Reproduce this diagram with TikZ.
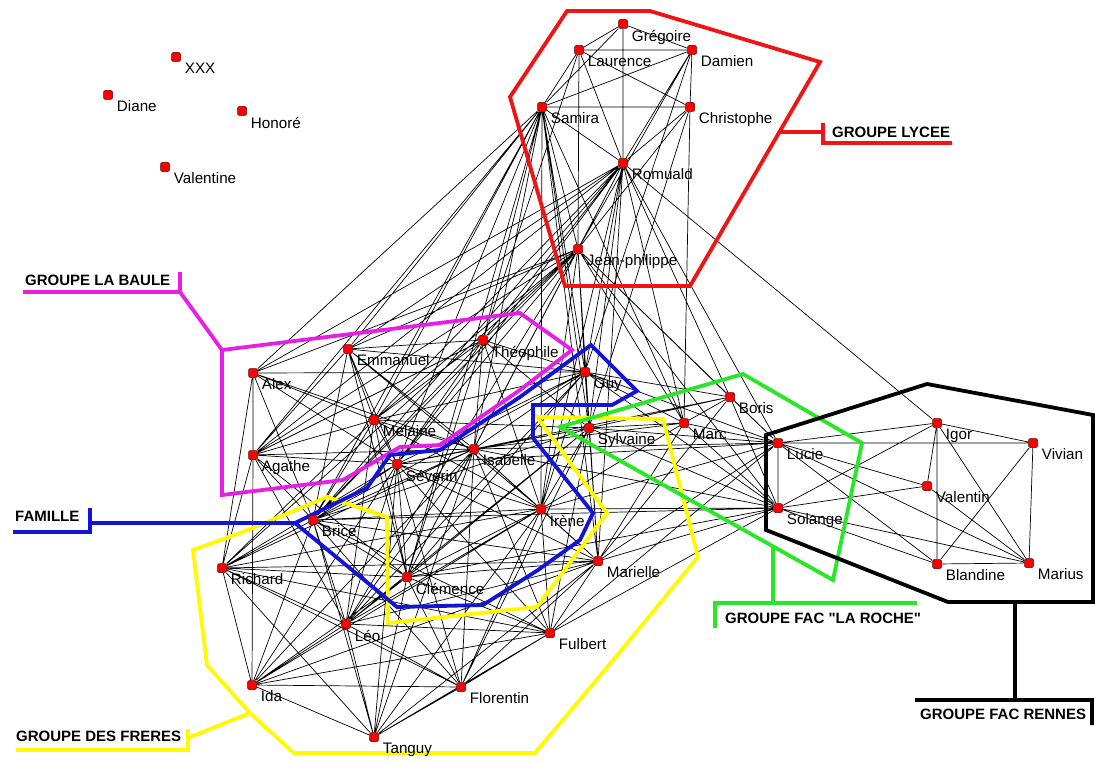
\documentclass[tikz,border=0pt]{standalone}
\usepackage{fontspec}
\setmainfont{Liberation Sans}
\pgfdeclarelayer{background}
\pgfsetlayers{background,main}
\definecolor{lycee}{RGB}{240,20,20}
\definecolor{baule}{RGB}{230,30,230}
\definecolor{famille}{RGB}{20,20,215}
\definecolor{freres}{RGB}{255,250,0}
\definecolor{roche}{RGB}{40,230,40}
\tikzset{
  pers/.style={rectangle,rounded corners=1.5pt,draw=red!40!black,fill=red,line width=0.5pt,minimum size=9pt,inner sep=0pt},
  lbl/.style={font=\fontsize{15.2}{18}\selectfont,inner sep=0pt,xshift=4pt,yshift=-1pt},
  edge/.style={line width=0.7pt},
  grp/.style={line width=3.8pt},
  grplbl/.style={font=\fontsize{15}{18}\selectfont\bfseries,anchor=base west,inner sep=0pt}
}
\begin{document}
\begin{tikzpicture}[line cap=round,line join=round,x=1pt,y=-1pt]
\useasboundingbox (0,0) rectangle (1095,765);
% persons
\path
(623,24) node[pers,label={[lbl]south east:Grégoire}] (gre) {}
(579,50) node[pers,label={[lbl]south east:Laurence}] (lau) {}
(692,50) node[pers,label={[lbl]south east:Damien}] (dam) {}
(542,107) node[pers,label={[lbl]south east:Samira}] (sam) {}
(690,107) node[pers,label={[lbl]south east:Christophe}] (chr) {}
(623,163) node[pers,label={[lbl]south east:Romuald}] (rom) {}
(578,249) node[pers,label={[lbl]south east:Jean-philippe}] (jea) {}
(483,340) node[pers,label={[lbl]south east:Théophile}] (the) {}
(348,349) node[pers,label={[lbl]south east:Emmanuel}] (emm) {}
(253,373) node[pers,label={[lbl]south east:Alex}] (ale) {}
(585,372) node[pers,label={[lbl]south east:Guy}] (guy) {}
(374,420) node[pers,label={[lbl]south east:Melaine}] (mel) {}
(253,455) node[pers,label={[lbl]south east:Agathe}] (aga) {}
(474,449) node[pers,label={[lbl]south east:Isabelle}] (isa) {}
(397,464) node[pers,label={[lbl]south east:Séverin}] (sev) {}
(730,397) node[pers,label={[lbl]south east:Boris}] (bor) {}
(684,423) node[pers,label={[lbl]south east:Marc}] (mac) {}
(589,428) node[pers,label={[lbl]south east:Sylvaine}] (syl) {}
(778,443) node[pers,label={[lbl]south east:Lucie}] (luc) {}
(778,508) node[pers,label={[lbl]south east:Solange}] (sol) {}
(937,423) node[pers,label={[lbl]south east:Igor}] (igo) {}
(1033,443) node[pers,label={[lbl]south east:Vivian}] (viv) {}
(927,486) node[pers,label={[lbl]south east:Valentin}] (vat) {}
(937,564) node[pers,label={[lbl]south east:Blandine}] (bla) {}
(1029,563) node[pers,label={[lbl]south east:Marius}] (mas) {}
(541,509) node[pers,label={[lbl]south east:Irène}] (ire) {}
(598,561) node[pers,label={[lbl]south east:Marielle}] (mle) {}
(313,520) node[pers,label={[lbl]south east:Brice}] (bri) {}
(222,568) node[pers,label={[lbl]south east:Richard}] (ric) {}
(407,577) node[pers,label={[lbl]south east:Clémence}] (cle) {}
(346,624) node[pers,label={[lbl]south east:Léo}] (leo) {}
(550,633) node[pers,label={[lbl]south east:Fulbert}] (ful) {}
(252,685) node[pers,label={[lbl]south east:Ida}] (ida) {}
(461,687) node[pers,label={[lbl]south east:Florentin}] (flo) {}
(374,737) node[pers,label={[lbl]south east:Tanguy}] (tan) {}
(176,57) node[pers,label={[lbl]south east:XXX}] (xxx) {}
(108,95) node[pers,label={[lbl]south east:Diane}] (dia) {}
(242,111) node[pers,label={[lbl]south east:Honoré}] (hon) {}
(165,167) node[pers,label={[lbl]south east:Valentine}] (vae) {}
;
% groups
\path
(567,11) coordinate (R1) (650,11) coordinate (R2) (820,62) coordinate (R3)
(690,286) coordinate (R4) (565,286) coordinate (R5) (510,97) coordinate (R6)
(779,132) coordinate (R7) (823,132) coordinate (R8) (823,123) coordinate (R9)
(823,143) coordinate (R10) (952,143) coordinate (R11)
(222,350) coordinate (B1) (520,313) coordinate (B2) (572,350) coordinate (B3)
(520,390) coordinate (B4) (440,445) coordinate (B5) (400,447) coordinate (B6)
(343,480) coordinate (B7) (222,495) coordinate (B8)
(180,292) coordinate (B9) (180,272) coordinate (B10) (23,292) coordinate (B11)
(591,345) coordinate (F1) (637,391) coordinate (F2) (612,405) coordinate (F3)
(533,405) coordinate (F4) (533,438) coordinate (F5) (593,513) coordinate (F6)
(580,540) coordinate (F7) (538,570) coordinate (F8) (483,605) coordinate (F9)
(397,607) coordinate (F10) (295,523) coordinate (F11) (367,488) coordinate (F12)
(390,455) coordinate (F13) (440,450) coordinate (F14) (520,397) coordinate (F15)
(90,523) coordinate (F16) (90,508) coordinate (F17) (90,532) coordinate (F18)
(13,532) coordinate (F19)
(537,417) coordinate (Y1) (663,419) coordinate (Y2) (698,557) coordinate (Y3)
(615,658) coordinate (Y4) (535,753) coordinate (Y5) (294,753) coordinate (Y6)
(250,713) coordinate (Y7) (207,665) coordinate (Y8) (193,550) coordinate (Y9)
(243,532) coordinate (Y10) (327,497) coordinate (Y11) (387,517) coordinate (Y12)
(388,623) coordinate (Y13) (537,607) coordinate (Y14) (607,513) coordinate (Y15)
(188,738) coordinate (Y16) (188,729) coordinate (Y17) (188,750) coordinate (Y18)
(16,750) coordinate (Y19)
(560,427) coordinate (G1) (743,374) coordinate (G2) (862,443) coordinate (G3)
(833,580) coordinate (G4) (773,545) coordinate (G5) (773,603) coordinate (G6)
(715,603) coordinate (G7) (917,603) coordinate (G8) (715,628) coordinate (G9)
(766,435) coordinate (N1) (927,384) coordinate (N2) (1093,415) coordinate (N3)
(1093,602) coordinate (N4) (948,602) coordinate (N5) (766,530) coordinate (N6)
(1015,602) coordinate (N7) (1015,700) coordinate (N8) (915,700) coordinate (N9)
(1092,700) coordinate (N10) (1092,725) coordinate (N11)
;
\begin{pgfonlayer}{background}
% links
\draw[edge]
(gre)--(lau) (gre)--(dam) (gre)--(sam) (gre)--(rom) (lau)--(dam) (lau)--(sam)
(lau)--(chr) (lau)--(rom) (lau)--(jea) (dam)--(sam) (dam)--(chr) (dam)--(rom)
(dam)--(jea) (sam)--(chr) (sam)--(rom) (sam)--(jea) (chr)--(rom) (chr)--(jea)
(rom)--(jea) (lau)--(the) (dam)--(guy) (chr)--(syl) (chr)--(mac)
(sam)--(emm) (sam)--(ale) (sam)--(aga) (sam)--(mel) (sam)--(the) (sam)--(isa)
(sam)--(sev) (sam)--(guy) (sam)--(syl) (sam)--(bri) (sam)--(ire) (sam)--(cle)
(sam)--(mac) (sam)--(mle)
(rom)--(the) (rom)--(guy) (rom)--(syl) (rom)--(mac) (rom)--(bor) (rom)--(isa)
(rom)--(mel) (rom)--(sev) (rom)--(ire) (rom)--(igo) (rom)--(emm) (rom)--(ale)
(rom)--(aga) (rom)--(luc) (rom)--(mle) (rom)--(cle) (rom)--(bri)
(jea)--(ale) (jea)--(aga) (jea)--(emm) (jea)--(mel) (jea)--(the) (jea)--(guy)
(jea)--(syl) (jea)--(mac) (jea)--(bor) (jea)--(luc) (jea)--(sol) (jea)--(ire)
(jea)--(mle) (jea)--(isa) (jea)--(sev) (jea)--(bri) (jea)--(cle) (jea)--(ric) (jea)--(leo)
(ale)--(aga) (ale)--(mel) (ale)--(guy) (ale)--(sev) (ale)--(ric) (ale)--(isa) (ale)--(bri)
(emm)--(mel) (emm)--(the) (emm)--(aga) (emm)--(sev) (emm)--(isa) (emm)--(bri) (emm)--(guy)
(emm)--(cle) (emm)--(ire)
(the)--(mel) (the)--(aga) (the)--(isa) (the)--(guy) (the)--(syl) (the)--(sev) (the)--(ire)
(the)--(bri) (the)--(cle)
(mel)--(aga) (mel)--(isa) (mel)--(sev) (mel)--(guy) (mel)--(syl) (mel)--(bri) (mel)--(cle) (mel)--(ire)
(mel)--(leo) (mel)--(ric)
(aga)--(isa) (aga)--(sev) (aga)--(bri) (aga)--(ric) (aga)--(ida) (aga)--(leo) (aga)--(cle)
(sev)--(isa) (sev)--(bri) (sev)--(cle) (sev)--(ire) (sev)--(leo) (sev)--(ric) (sev)--(ida)
(sev)--(flo) (sev)--(tan) (sev)--(ful) (sev)--(syl) (sev)--(guy) (sev)--(mle) (sev)--(luc)
(isa)--(bri) (isa)--(cle) (isa)--(ire) (isa)--(syl) (isa)--(guy) (isa)--(leo) (isa)--(ric)
(isa)--(ida) (isa)--(flo) (isa)--(ful) (isa)--(mle) (isa)--(tan) (isa)--(luc) (isa)--(sol)
(isa)--(bor) (isa)--(mac)
(bri)--(cle) (bri)--(ire) (bri)--(leo) (bri)--(ric) (bri)--(ida) (bri)--(flo) (bri)--(tan)
(bri)--(ful) (bri)--(syl) (bri)--(guy) (bri)--(mle) (bri)--(sol)
(guy)--(syl) (guy)--(mac) (guy)--(bor) (guy)--(ire) (guy)--(cle) (guy)--(luc) (guy)--(sol) (guy)--(leo)
(syl)--(mac) (syl)--(bor) (syl)--(luc) (syl)--(sol) (syl)--(ire) (syl)--(mle) (syl)--(cle)
(syl)--(leo) (syl)--(ful) (syl)--(flo)
(ire)--(cle) (ire)--(mle) (ire)--(leo) (ire)--(ric) (ire)--(ida) (ire)--(flo) (ire)--(tan)
(ire)--(ful) (ire)--(sol) (ire)--(luc) (ire)--(mac)
(cle)--(leo) (cle)--(ric) (cle)--(ida) (cle)--(flo) (cle)--(tan) (cle)--(ful) (cle)--(mle) (cle)--(sol)
(ric)--(leo) (ric)--(ida) (ric)--(flo) (ric)--(tan) (ric)--(ful) (ric)--(mle)
(leo)--(ida) (leo)--(flo) (leo)--(tan) (leo)--(ful) (leo)--(mle)
(ida)--(flo) (ida)--(tan) (ida)--(ful) (ida)--(mle) (flo)--(tan) (flo)--(ful) (flo)--(mle)
(tan)--(ful) (tan)--(mle) (ful)--(mle) (ful)--(sol) (ful)--(luc)
(mac)--(bor) (mac)--(luc) (mac)--(sol) (mac)--(mle) (bor)--(luc) (bor)--(sol) (bor)--(mle)
(luc)--(sol) (sol)--(mle) (mle)--(luc)
(luc)--(igo) (luc)--(viv) (luc)--(vat) (luc)--(bla) (luc)--(mas) (sol)--(igo) (sol)--(vat)
(sol)--(bla) (sol)--(mas) (igo)--(viv) (igo)--(vat) (igo)--(bla) (igo)--(mas)
(viv)--(bla) (viv)--(mas) (vat)--(mas) (bla)--(mas);
% outlines
\draw[grp,lycee] (R1)--(R2)--(R3)--(R4)--(R5)--(R6)--cycle (R7)--(R8) (R9)--(R10)--(R11);
\draw[grp,baule] (B1)--(B2)--(B3)--(B4)--(B5)--(B6)--(B7)--(B8)--cycle (B1)--(B9) (B10)--(B9)--(B11);
\draw[grp,freres] (Y1)--(Y2)--(Y3)--(Y4)--(Y5)--(Y6)--(Y7)--(Y8)--(Y9)--(Y10)--(Y11)--(Y12)--(Y13)--(Y14)--(Y15)--cycle
  (Y7)--(Y16) (Y17)--(Y18)--(Y19);
\draw[grp,famille] (F1)--(F2)--(F3)--(F4)--(F5)--(F6)--(F7)--(F8)--(F9)--(F10)--(F11)--(F12)--(F13)--(F14)--(F15)--cycle
  (F11)--(F16) (F17)--(F18)--(F19);
\draw[grp,roche] (G1)--(G2)--(G3)--(G4)--cycle (G5)--(G6) (G9)--(G7)--(G8);
\draw[grp,black] (N1)--(N2)--(N3)--(N4)--(N5)--(N6)--cycle (N7)--(N8) (N9)--(N10)--(N11);
\end{pgfonlayer}
\node[grplbl] (lyclbl) at (832,138) {GROUPE LYCEE};
\node[grplbl] (baulbl) at (25,285) {GROUPE LA BAULE};
\node[grplbl] (famlbl) at (15,521) {FAMILLE};
\node[grplbl] (frelbl) at (16,741) {GROUPE DES FRERES};
\node[grplbl] (rochlbl) at (725,623) {GROUPE FAC \textquotedbl LA ROCHE\textquotedbl};
\node[grplbl] (renlbl) at (920,719) {GROUPE FAC RENNES};
\end{tikzpicture}
\end{document}
